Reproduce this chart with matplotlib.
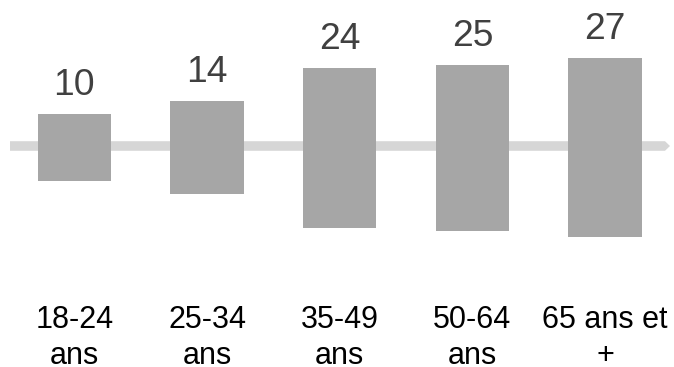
import matplotlib
matplotlib.use("Agg")
import matplotlib.pyplot as plt
from matplotlib.patches import Polygon
import matplotlib.transforms as mtransforms

categories = ["18-24\nans", "25-34\nans", "35-49\nans", "50-64\nans", "65 ans et\n+"]
values = [10, 14, 24, 25, 27]

plt.rcParams['font.family'] = ['Liberation Sans', 'DejaVu Sans']

W, H = 674, 367
fig = plt.figure(figsize=(W / 100, H / 100), dpi=100)
ax = fig.add_axes([0, 0, 1, 1])
ax.set_axis_off()

# pixel mapping
x0_px, dx_px = 74.3, 132.7
yc_px = H - 147.7
py_unit = 6.65
ax.set_xlim(-x0_px / dx_px, (W - x0_px) / dx_px)
ax.set_ylim(-yc_px / py_unit, (H - yc_px) / py_unit)

# axis line with arrow tip (axes fraction coords)
ly = 1 - 146 / H
lh = 4.8 / H
arrow = Polygon([(10 / W, ly - lh), (665 / W, ly - lh), (670 / W, ly),
                 (665 / W, ly + lh), (10 / W, ly + lh)],
                closed=True, transform=ax.transAxes, facecolor='#d6d6d6',
                edgecolor='none', zorder=1)
ax.add_patch(arrow)

xs = list(range(len(values)))
bottoms = [-v / 2 for v in values]
ax.bar(xs, values, bottom=bottoms, width=0.554, color='#a6a6a6', zorder=2)

for x, v in zip(xs, values):
    ax.annotate(str(v), xy=(x, v / 2), xytext=(0, 13.7), textcoords='offset points',
                ha='center', va='baseline', fontsize=26.8, color='#404040')

trans = mtransforms.blended_transform_factory(ax.transData, ax.transAxes)
for x, lab in zip(xs, categories):
    ax.text(x, 1 - 305 / H, lab, transform=trans, ha='center', va='top',
            fontsize=22, color='#000000', linespacing=1.28)

fig.savefig("out.png", dpi=100)
